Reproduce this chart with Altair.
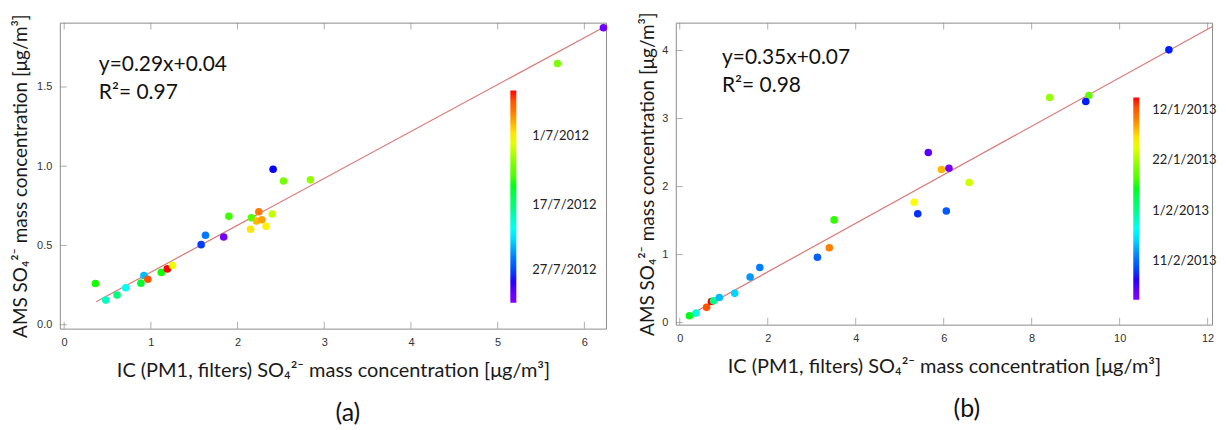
import altair as alt
import pandas as pd

# ---------------- Panel (a) data ----------------
a_x = [0.36, 0.48, 0.61, 0.71, 0.885, 0.92, 0.965, 1.12, 1.19, 1.25, 1.58, 1.63, 1.84,
       1.90, 2.16, 2.41, 2.53, 2.84, 2.245, 2.22, 2.28, 2.40, 2.15, 2.33, 5.69, 6.22]
a_y = [0.26, 0.155, 0.187, 0.233, 0.262, 0.31, 0.287, 0.33, 0.352, 0.373, 0.505, 0.564, 0.553,
       0.684, 0.675, 0.981, 0.907, 0.914, 0.713, 0.654, 0.662, 0.698, 0.602, 0.621, 1.648, 1.874]
a_c = [0.56, 0.40, 0.45, 0.35, 0.54, 0.27, 0.95, 0.56, 1.0, 0.76, 0.14, 0.21, 0.02,
       0.58, 0.60, 0.11, 0.65, 0.68, 0.90, 0.84, 0.86, 0.72, 0.80, 0.79, 0.66, 0.03]
a_fit_x = [0.37, 6.25]
a_fit_y = [0.145, 1.885]
a_xticks = [0, 1, 2, 3, 4, 5, 6]
a_yticks = [0.0, 0.5, 1.0, 1.5]
a_cbar_vals = [0.155, 0.46, 0.784]
a_cbar_labels = ["27/7/2012", "17/7/2012", "1/7/2012"]
a_eq = ["y=0.29x+0.04", "R²= 0.97"]

# ---------------- Panel (b) data ----------------
b_x = [0.22, 0.37, 0.61, 0.72, 0.77, 0.90, 1.25, 1.60, 1.82, 3.13, 3.40, 3.51,
       5.65, 5.95, 6.12, 6.58, 5.33, 5.41, 6.06, 8.41, 9.30, 9.23, 11.12]
b_y = [0.10, 0.14, 0.224, 0.31, 0.32, 0.37, 0.43, 0.67, 0.81, 0.96, 1.10, 1.51,
       2.50, 2.25, 2.27, 2.06, 1.77, 1.60, 1.64, 3.31, 3.34, 3.25, 4.01]
b_c = [0.55, 0.38, 0.95, 1.0, 0.44, 0.27, 0.29, 0.24, 0.22, 0.18, 0.89, 0.57,
       0.05, 0.84, 0.02, 0.73, 0.78, 0.13, 0.17, 0.68, 0.62, 0.12, 0.12]
b_fit_x = [0.185, 12.1]
b_fit_y = [0.098, 4.35]
b_xticks = [0, 2, 4, 6, 8, 10, 12]
b_yticks = [0, 1, 2, 3, 4]
b_cbar_vals = [0.19, 0.44, 0.69, 0.94]
b_cbar_labels = ["11/2/2013", "1/2/2013", "22/1/2013", "12/1/2013"]
b_eq = ["y=0.35x+0.07", "R²= 0.98"]

# colour map (rainbow, purple at bottom -> red at top)
cmap_colors = ["#8000ff", "#0000ff", "#0080ff", "#00ffff", "#00ff80",
               "#00ff00", "#80ff00", "#ffff00", "#ff8000", "#ff0000"]
cmap_stops = [i / 9 for i in range(10)]

FRAME = "#8c8c8c"
TITLE_FONT = "Lato"
LABEL_FONT = "Liberation Sans"
X_TITLE = "IC (PM1, filters) SO₄²⁻ mass concentration [μg/m³]"
Y_TITLE = "AMS SO₄²⁻ mass concentration [μg/m³]"


def label_expr(vals, labels):
    expr = "''"
    for v, l in zip(vals, labels):
        expr = f"abs(datum.value - {v}) < 0.001 ? '{l}' : ({expr})"
    return expr


def panel(xs, ys, cs, fx, fy, xt, yt, cvals, clabels, eq, xdom, ydom, W, H,
          yfmt, eq_pos, legend_xy, panel_label, label_dx, ytp):
    xsc = alt.Scale(domain=xdom, nice=False, zero=False)
    ysc = alt.Scale(domain=ydom, nice=False, zero=False)
    xax = alt.Axis(values=xt, title=X_TITLE, format="d", labelPadding=8,
                   titlePadding=13, titleFontSize=20)
    yax = alt.Axis(values=yt, title=Y_TITLE, format=yfmt, labelPadding=8,
                   titlePadding=ytp, titleFontSize=19)
    pts = pd.DataFrame({"x": xs, "y": ys, "c": cs})
    fit = pd.DataFrame({"x": fx, "y": fy})

    line = alt.Chart(fit).mark_line(color="#d97a78", strokeWidth=1.2).encode(
        x=alt.X("x:Q", scale=xsc, axis=xax),
        y=alt.Y("y:Q", scale=ysc, axis=yax),
    )
    points = alt.Chart(pts).mark_circle(size=58, opacity=1).encode(
        x=alt.X("x:Q", scale=xsc, axis=xax),
        y=alt.Y("y:Q", scale=ysc, axis=yax),
        color=alt.Color(
            "c:Q",
            scale=alt.Scale(domain=cmap_stops, range=cmap_colors),
            legend=alt.Legend(
                orient="none", legendX=legend_xy[0], legendY=legend_xy[1],
                direction="vertical", gradientLength=legend_xy[2],
                gradientThickness=6, title=None, values=cvals,
                labelExpr=label_expr(cvals, clabels), labelOverlap=False,
                labelFont=TITLE_FONT, labelFontSize=13, labelColor="#222222",
                labelOffset=legend_xy[3], gradientStrokeWidth=0,
            ),
        ),
    )
    xdf = pd.DataFrame({"v": xt})
    ydf = pd.DataFrame({"v": yt})
    tb = alt.Chart(xdf).mark_tick(orient="vertical", size=7, thickness=1,
                                  color=FRAME, yOffset=-3.5).encode(
        x=alt.X("v:Q", scale=xsc, axis=xax), y=alt.value(H))
    tt = alt.Chart(xdf).mark_tick(orient="vertical", size=7, thickness=1,
                                  color=FRAME, yOffset=3.5).encode(
        x=alt.X("v:Q", scale=xsc, axis=xax), y=alt.value(0))
    tl = alt.Chart(ydf).mark_tick(orient="horizontal", size=7, thickness=1,
                                  color=FRAME, xOffset=3.5).encode(
        y=alt.Y("v:Q", scale=ysc, axis=yax), x=alt.value(0))
    edf = pd.DataFrame({"t": [eq[0]]})
    rdf = pd.DataFrame({"t": [eq[1]]})
    t1 = alt.Chart(edf).mark_text(align="left", baseline="middle", font=TITLE_FONT,
                                  fontSize=21, color="#111111").encode(
        x=alt.X(datum=eq_pos[0], scale=xsc, axis=xax),
        y=alt.Y(datum=eq_pos[1], scale=ysc, axis=yax), text="t:N")
    t2 = alt.Chart(rdf).mark_text(align="left", baseline="middle", font=TITLE_FONT,
                                  fontSize=21, color="#111111").encode(
        x=alt.X(datum=eq_pos[0], scale=xsc, axis=xax),
        y=alt.Y(datum=eq_pos[2], scale=ysc, axis=yax), text="t:N")
    return alt.layer(line, points, tb, tt, tl, t1, t2).properties(
        width=W, height=H,
        title=alt.TitleParams(panel_label, orient="bottom", anchor="middle",
                              fontSize=25, font=TITLE_FONT, fontWeight="normal",
                              color="#111111", offset=21, dx=label_dx),
    )


left = panel(a_x, a_y, a_c, a_fit_x, a_fit_y, a_xticks, a_yticks, a_cbar_vals,
             a_cbar_labels, a_eq, [-0.05, 6.25], [-0.025, 1.906], 548, 307, ".1f",
             (0.40, 1.64, 1.465), (452, 68, 213, 16), "(a)", 15, 6)
right = panel(b_x, b_y, b_c, b_fit_x, b_fit_y, b_xticks, b_yticks, b_cbar_vals,
              b_cbar_labels, b_eq, [-0.09, 12.1], [-0.03, 4.41], 538, 303, "d",
              (0.96, 3.89, 3.48), (459, 75, 203, 13), "(b)", 23, 4)

chart = alt.hconcat(left, right, spacing=29).resolve_scale(
    color="independent"
).configure_view(stroke=FRAME, strokeWidth=1).configure_axis(
    grid=False, domain=False, ticks=False,
    labelFont=LABEL_FONT, labelFontSize=11, labelColor="#333333",
    titleFont=TITLE_FONT, titleFontWeight="normal",
    titleColor="#1a1a1a",
).properties(padding={"top": 2, "left": 3, "right": 0, "bottom": 0})

chart.save("out.html", embed_options={"renderer": "svg", "actions": False})
